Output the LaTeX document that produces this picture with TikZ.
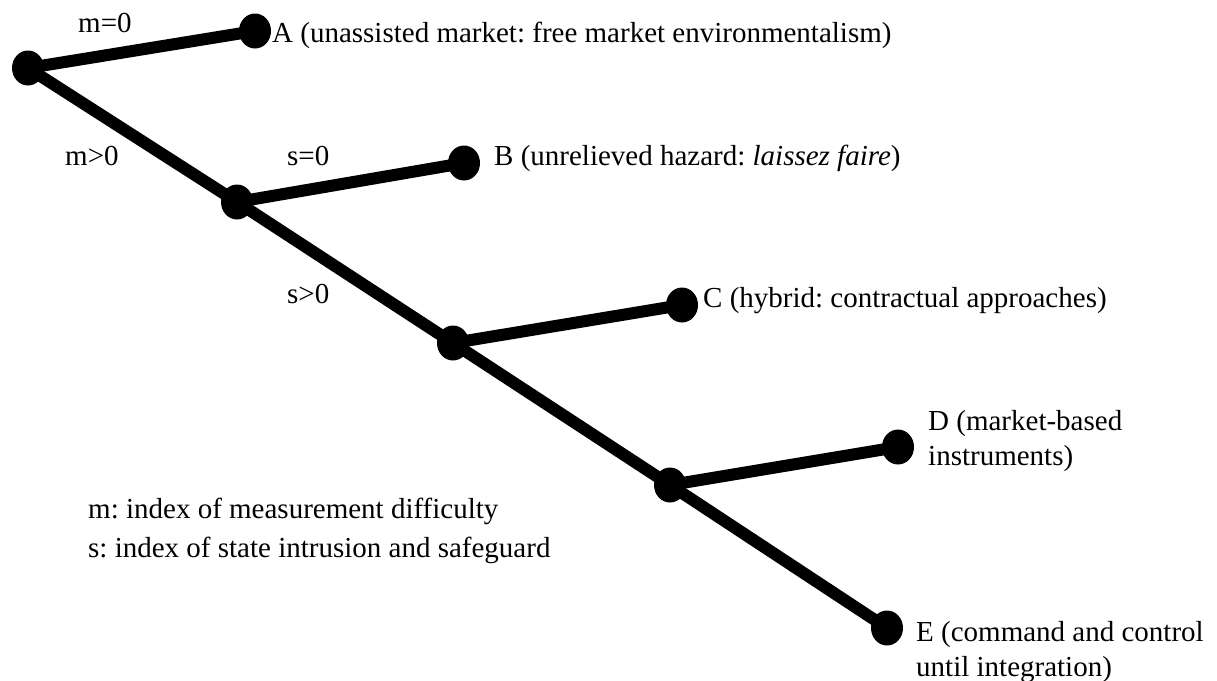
\documentclass[tikz,border=0pt]{standalone}
\usepackage{fontspec}
\setmainfont{Liberation Serif}
\usetikzlibrary{shapes.geometric}
\frenchspacing
\begin{document}
\begin{tikzpicture}[x=1pt,y=-1pt,
        dot/.style={ellipse,fill=black,inner sep=0pt,minimum width=32pt,minimum height=35pt},
        branch/.style={line width=12pt},
        lbl/.style={anchor=base west,inner sep=0pt,align=left,font=\fontsize{29}{35}\selectfont}]
        \useasboundingbox (0,0) rectangle (1217,680);
        % dots
        \node[dot] (root) at (28,68) {};
        \node[dot] (j1) at (237,202) {};
        \node[dot] (j2) at (453,343) {};
        \node[dot] (j3) at (670,485) {};
        \node[dot] (a) at (255,31) {};
        \node[dot] (b) at (464,163) {};
        \node[dot] (c) at (682,305) {};
        \node[dot] (d) at (898,447) {};
        \node[dot] (e) at (887,628) {};
        % outline
        \draw[branch] (root.center) -- (j1.center) -- (j2.center) -- (j3.center) -- (e.center);
        \draw[branch] (root.center) -- (a.center);
        \draw[branch] (j1.center) -- (b.center);
        \draw[branch] (j2.center) -- (c.center);
        \draw[branch] (j3.center) -- (d.center);
        % texts (base of a two-line node is its last line)
        \node[lbl] (ta) at (272,42) {A (unassisted market: free market environmentalism)};
        \node[lbl] (tb) at (494,165) {B (unrelieved hazard: \textit{laissez faire})};
        \node[lbl] (tc) at (703,307) {C (hybrid: contractual approaches)};
        \node[lbl] (td) at (928,465) {D (market-based\\instruments)};
        \node[lbl] (te) at (916,676) {E (command and control\\until integration)};
        \node[lbl] (m0) at (78,32) {m=0};
        \node[lbl] (m1) at (65,165) {m>0};
        \node[lbl] (s0) at (287,165) {s=0};
        \node[lbl] (s1) at (287,303) {s>0};
        \node[lbl] (key) at (88,557) {m: index of measurement difficulty\\[4pt]s: index of state intrusion and safeguard};
\end{tikzpicture}
\end{document}
